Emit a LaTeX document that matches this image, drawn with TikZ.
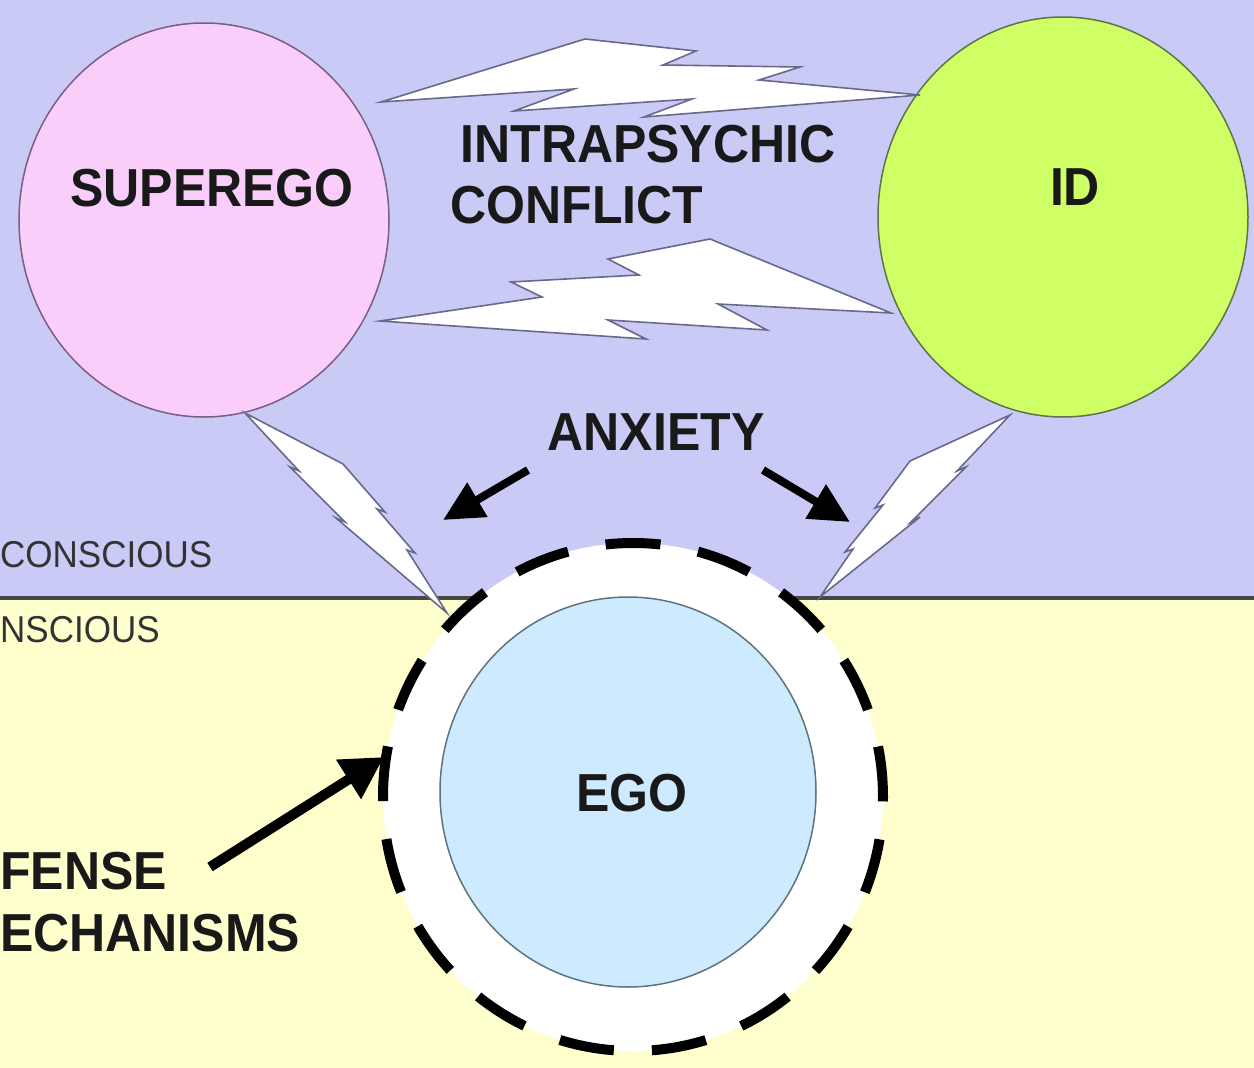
\documentclass[tikz,border=0pt]{standalone}
\usepackage{fontspec}
\setmainfont{Liberation Sans}
\usetikzlibrary{arrows.meta,shapes.geometric}
\definecolor{topbg}{RGB}{202,202,247}
\definecolor{botbg}{RGB}{255,255,206}
\definecolor{superpink}{RGB}{250,206,250}
\definecolor{superline}{RGB}{120,95,130}
\definecolor{idgreen}{RGB}{206,255,100}
\definecolor{idline}{RGB}{95,115,75}
\definecolor{egoblue}{RGB}{206,234,255}
\definecolor{egoline}{RGB}{95,115,125}
\definecolor{boltline}{RGB}{105,105,140}
\newcommand{\tallt}[1]{\scalebox{1}[1.07]{#1}}
\begin{document}
\begin{tikzpicture}[x=1pt,y=-1pt,
  lbl/.style={font=\fontsize{50}{56}\selectfont\bfseries, inner sep=0pt, text=black!90},
  smalllbl/.style={font=\fontsize{35}{40}\selectfont, inner sep=0pt, text=black!80},
  bolt/.style={fill=white, draw=boltline, line width=1.6pt, line join=miter},
  bigarrow/.style={line width=8pt, -{Triangle[length=40pt,width=38pt]}},
  bubble/.style={ellipse, inner sep=0pt, line width=1.5pt},
]
\useasboundingbox (0,0) rectangle (1254,1068);
\clip (0,0) rectangle (1254,1068);
% backgrounds
\fill[topbg] (0,0) rectangle (1254,598);
\fill[botbg] (0,598) rectangle (1254,1068);
\draw[line width=3.5pt, black!72] (0,598) -- (1254,598);

% circles
\node[bubble, draw=superline, fill=superpink, minimum width=370pt, minimum height=394pt] (superego) at (204,220) {};
\node[bubble, draw=idline, fill=idgreen, minimum width=370pt, minimum height=400pt] (id) at (1063,217) {};
\node[bubble, fill=white, draw=black, line width=10pt, dash pattern=on 55pt off 38.14pt, dash phase=4.2pt, minimum width=500pt, minimum height=508pt] (ring) at (633,797) {};
\node[bubble, draw=egoline, fill=egoblue, minimum width=376pt, minimum height=390pt] (ego) at (628,792) {};

% lightning bolts
\draw[bolt] (381,102) -- (585,39) -- (696,51) -- (663,65) -- (800,67) -- (759,80) -- (920,95)
  -- (644,117) -- (692,99) -- (514,111) -- (574,89) -- cycle;
\draw[bolt] (710,239) -- (608,259) -- (639,275) -- (511,282) -- (542,297) -- (380,321)
  -- (646,339) -- (608,320) -- (767,330) -- (718,304) -- (891,313) -- cycle;
\draw[bolt] (245,413) -- (343,464) -- (385,512) -- (377,509) -- (415,553) -- (407,550) -- (447,613)
  -- (336,518) -- (345,522) -- (290,467) -- (299,471) -- cycle;
\draw[bolt] (1010,415) -- (910,461) -- (875,508) -- (883,505) -- (845,552) -- (853,549) -- (820,597)
  -- (920,517) -- (911,522) -- (966,467) -- (957,471) -- cycle;

% labels
\node[lbl] (tsuper) at (212,188) {\tallt{SUPEREGO}};
\node[lbl] (tid) at (1075,187) {\tallt{ID}};
\node[lbl] (tintra) at (648,144) {\tallt{INTRAPSYCHIC}};
\node[lbl] (tconf) at (577,205) {\tallt{CONFLICT}};
\node[lbl] (tanx) at (656,432) {\tallt{ANXIETY}};
\node[lbl] (tego) at (632,793) {\tallt{EGO}};
\node[smalllbl, anchor=west] (tcons) at (0,555) {\tallt{CONSCIOUS}};
\node[smalllbl, anchor=west] (tncons) at (0,630) {\tallt{NSCIOUS}};
\node[lbl, anchor=west] (tfense) at (0,871) {\tallt{FENSE}};
\node[lbl, anchor=west] (techan) at (0,933) {\tallt{ECHANISMS}};

% arrows
\coordinate (a1s) at (528,470);
\coordinate (a1e) at (443,520);
\coordinate (a2s) at (763,470);
\coordinate (a2e) at (850,522);
\coordinate (a3s) at (210,867);
\coordinate (a3e) at (384,757);
\draw[bigarrow] (a1s) -- (a1e);
\draw[bigarrow] (a2s) -- (a2e);
\draw[bigarrow, line width=10pt, -{Triangle[length=42pt,width=44pt]}] (a3s) -- (a3e);
\end{tikzpicture}
\end{document}
